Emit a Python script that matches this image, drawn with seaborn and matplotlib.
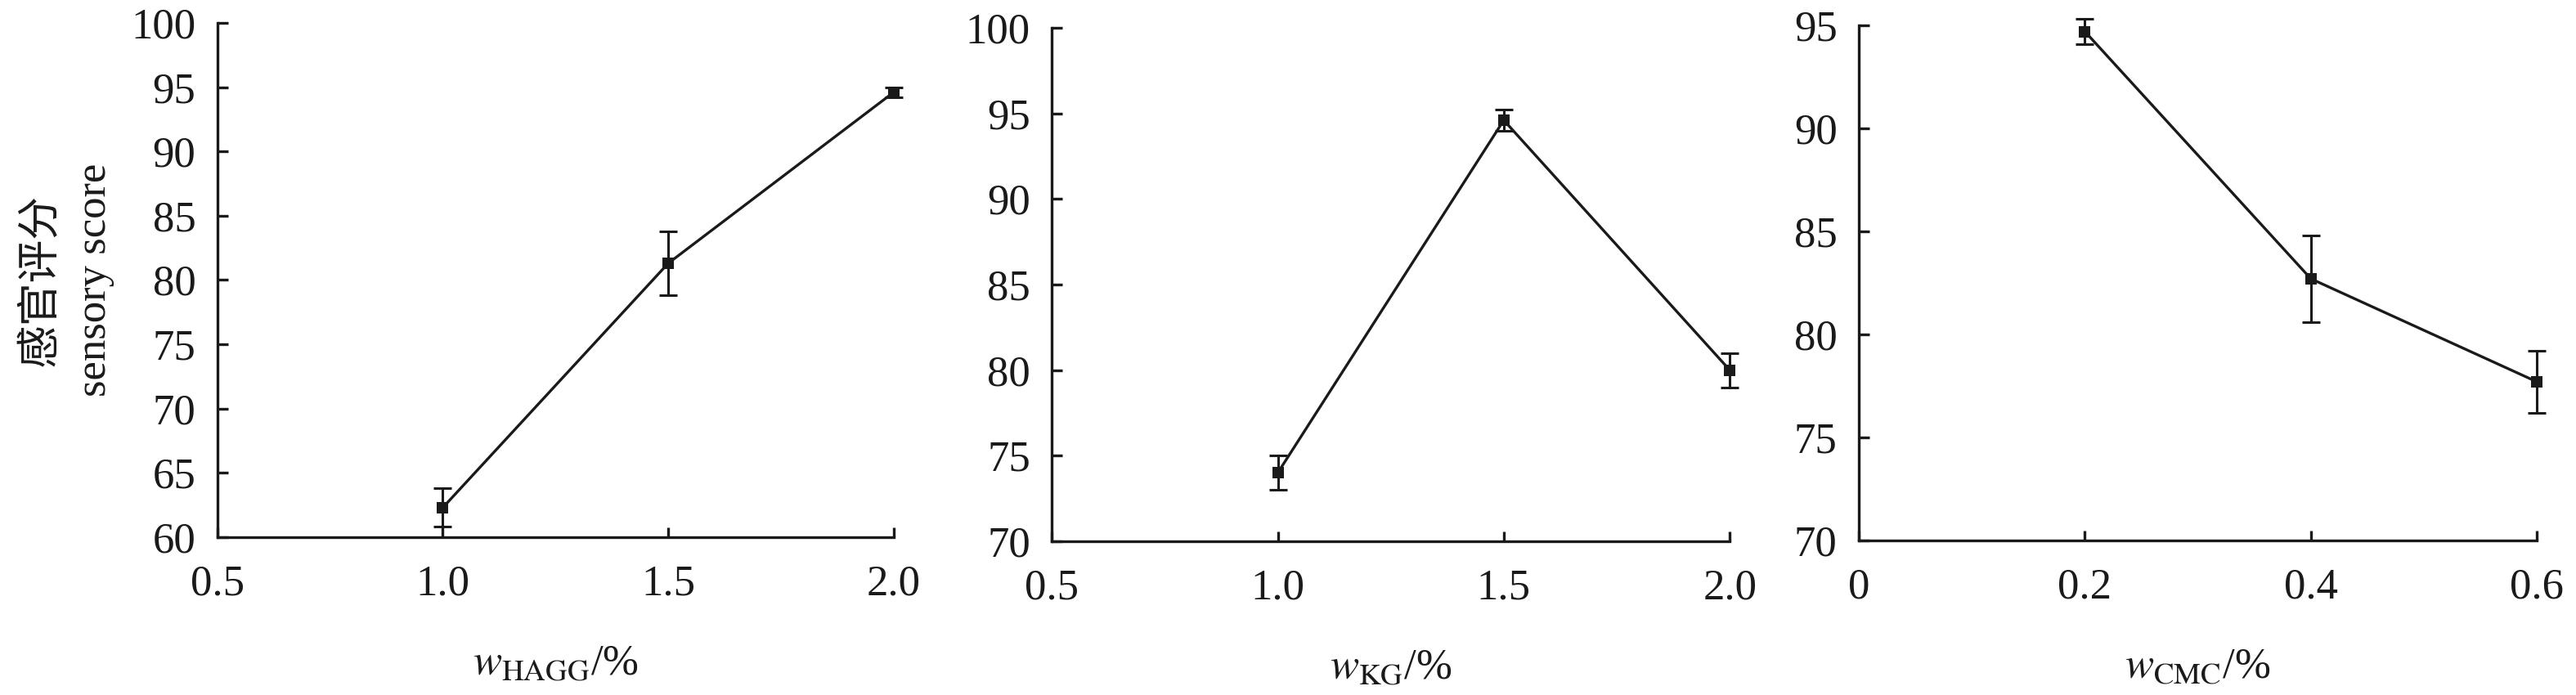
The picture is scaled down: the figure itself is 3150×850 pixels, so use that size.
import matplotlib
matplotlib.use('Agg')
import matplotlib.pyplot as plt
import seaborn as sns
import pandas as pd

# data
hagg_x = [1.0, 1.5, 2.0]
hagg_y = [62.3, 81.3, 94.6]
hagg_err = [1.5, 2.5, 0.4]

kg_x = [1.0, 1.5, 2.0]
kg_y = [74.0, 94.6, 80.0]
kg_err = [1.0, 0.6, 1.0]

cmc_x = [0.2, 0.4, 0.6]
cmc_y = [94.7, 82.7, 77.7]
cmc_err = [0.6, 2.1, 1.5]

sns.set_style('ticks')
plt.rcParams['font.family'] = ['Liberation Serif', 'Noto Sans CJK SC']
plt.rcParams['mathtext.fontset'] = 'stix'

ink = '#1a1a1a'
fs = 38

fig = plt.figure(figsize=(31.5, 8.5), dpi=100)

panels = [
    (hagg_x, hagg_y, hagg_err, r'$w_{\mathrm{HAGG}}$/%', (0.5, 2.0), [0.5, 1.0, 1.5, 2.0], ['0.5', '1.0', '1.5', '2.0'],
     (60, 100), range(60, 101, 5), [0.0844, 0.2271, 0.2625, 0.740]),
    (kg_x, kg_y, kg_err, r'$w_{\mathrm{KG}}$/%', (0.5, 2.0), [0.5, 1.0, 1.5, 2.0], ['0.5', '1.0', '1.5', '2.0'],
     (70, 100), range(70, 101, 5), [0.4083, 0.2212, 0.2632, 0.7388]),
    (cmc_x, cmc_y, cmc_err, r'$w_{\mathrm{CMC}}$/%', (0, 0.6), [0, 0.2, 0.4, 0.6], ['0', '0.2', '0.4', '0.6'],
     (70, 95), range(70, 96, 5), [0.7216, 0.2224, 0.2632, 0.7412]),
]

for i, (x, y, err, xlab, xlim, xt, xtl, ylim, yt, rect) in enumerate(panels):
    ax = fig.add_axes(rect)
    df = pd.DataFrame({'x': x, 'y': y})
    ax.errorbar(x, y, yerr=err, fmt='none', ecolor=ink, elinewidth=2.2,
                capsize=8, capthick=2.2, clip_on=False, zorder=3)
    sns.lineplot(data=df, x='x', y='y', ax=ax, color=ink, linewidth=2.4,
                 marker='s', markersize=10, markeredgewidth=0, clip_on=False, zorder=4)
    ax.set_xlim(*xlim)
    ax.set_ylim(*ylim)
    ax.set_xticks(xt)
    ax.set_xticklabels(xtl)
    ax.set_yticks(list(yt))
    ax.tick_params(direction='in', length=9, width=2.4, labelsize=fs, colors=ink)
    ax.tick_params(axis='x', pad=24)
    ax.tick_params(axis='y', pad=19)
    for s in ['top', 'right']:
        ax.spines[s].set_visible(False)
    for s in ['left', 'bottom']:
        ax.spines[s].set_linewidth(2.4)
        ax.spines[s].set_color(ink)
    ax.set_xlabel(xlab, fontsize=fs, labelpad=36, color=ink)
    if i == 0:
        ax.set_ylabel('感官评分\nsensory score', fontsize=fs, labelpad=15,
                      color=ink, linespacing=1.45)
    else:
        ax.set_ylabel('')

fig.savefig('out.png', dpi=100)
